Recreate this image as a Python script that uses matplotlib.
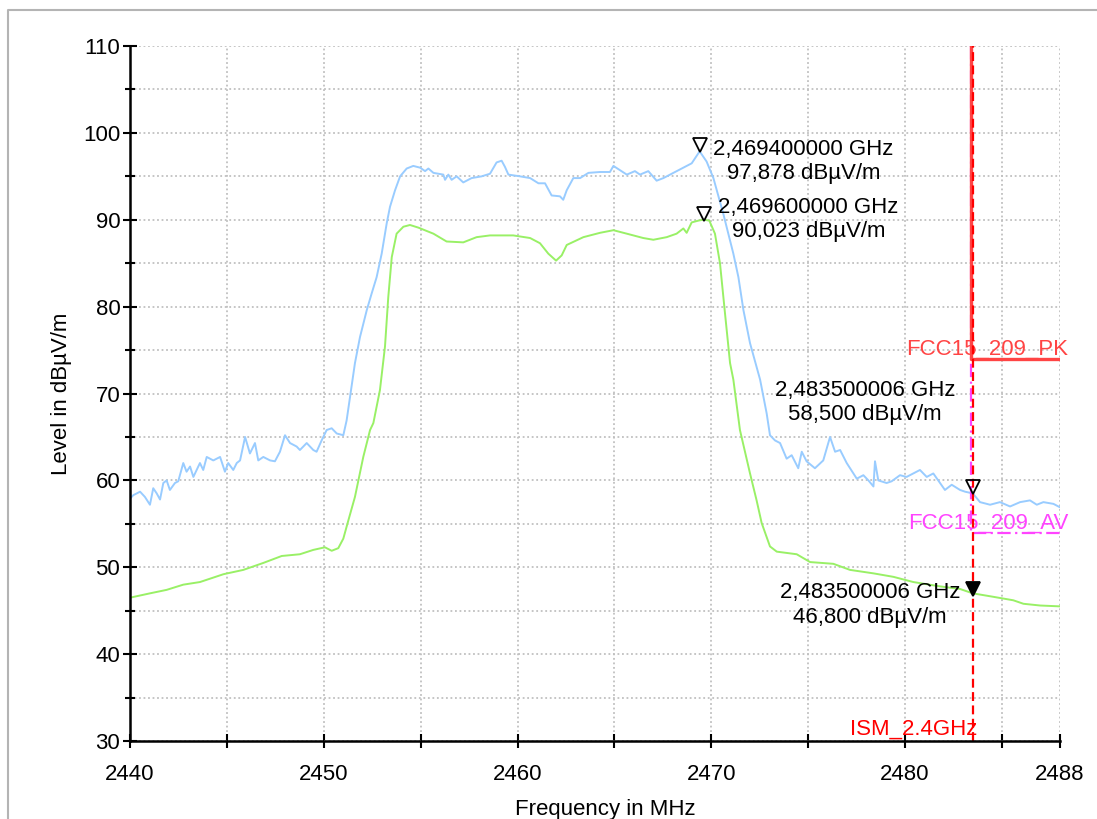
import matplotlib
matplotlib.use("Agg")
import matplotlib.pyplot as plt
from matplotlib.lines import Line2D
from matplotlib.transforms import ScaledTranslation

plt.rcParams['font.family'] = ['Liberation Sans', 'DejaVu Sans']

# peak trace (blue)
pk_freq = [2440.00, 2440.17, 2440.52, 2440.77, 2441.03, 2441.20, 2441.38, 2441.55, 2441.72, 2441.89,
           2442.06, 2442.32, 2442.49, 2442.75, 2442.92, 2443.10, 2443.27, 2443.44, 2443.61, 2443.78,
           2443.96, 2444.30, 2444.65, 2444.90, 2445.07, 2445.33, 2445.51, 2445.68, 2445.94, 2446.19,
           2446.45, 2446.62, 2446.88, 2447.23, 2447.48, 2447.74, 2448.00, 2448.26, 2448.60, 2448.77,
           2449.12, 2449.46, 2449.63, 2449.89, 2450.15, 2450.41, 2450.67, 2451.01, 2451.18, 2451.35,
           2451.61, 2451.87, 2452.22, 2452.47, 2452.73, 2452.99, 2453.25, 2453.42, 2453.68, 2453.94,
           2454.28, 2454.62, 2454.97, 2455.23, 2455.40, 2455.66, 2456.17, 2456.26, 2456.43, 2456.60,
           2456.86, 2457.20, 2457.63, 2458.15, 2458.58, 2458.92, 2459.18, 2459.35, 2459.53, 2460.13,
           2460.65, 2461.08, 2461.42, 2461.76, 2462.19, 2462.36, 2462.54, 2462.88, 2463.23, 2463.66,
           2464.26, 2464.77, 2464.95, 2465.29, 2465.64, 2466.06, 2466.32, 2466.75, 2467.18, 2467.53,
           2468.04, 2468.56, 2468.99, 2469.40, 2469.76, 2470.11, 2470.62, 2471.14, 2471.40, 2471.66,
           2472.00, 2472.52, 2472.86, 2473.03, 2473.29, 2473.55, 2473.89, 2474.15, 2474.49, 2474.67,
           2474.92, 2475.35, 2475.78, 2476.13, 2476.39, 2476.65, 2476.99, 2477.51, 2477.85, 2478.11,
           2478.37, 2478.45, 2478.62, 2479.05, 2479.31, 2479.74, 2480.08, 2480.43, 2480.77, 2481.12,
           2481.46, 2481.81, 2482.06, 2482.41, 2482.84, 2483.10, 2483.50, 2483.87, 2484.39, 2484.90,
           2485.42, 2485.94, 2486.45, 2486.80, 2487.14, 2487.66, 2488.00]
pk_level = [57.9, 58.3, 58.7, 58.1, 57.2, 59.1, 58.5, 57.8, 59.7, 60.0,
            58.9, 59.7, 59.9, 62.0, 61.0, 61.6, 60.4, 61.2, 62.0, 61.2,
            62.7, 62.3, 62.7, 61.0, 62.0, 61.2, 62.0, 62.3, 65.0, 63.1,
            64.3, 62.3, 62.7, 62.3, 62.2, 63.3, 65.2, 64.3, 63.9, 63.5,
            64.3, 63.5, 63.3, 64.6, 65.8, 66.0, 65.4, 65.2, 66.9, 69.5,
            73.5, 76.5, 79.6, 81.5, 83.4, 86.1, 89.6, 91.5, 93.4, 95.0,
            95.9, 96.2, 96.0, 95.6, 95.9, 95.4, 95.2, 94.6, 95.2, 94.6,
            95.0, 94.3, 94.8, 95.0, 95.3, 96.6, 96.8, 96.1, 95.2, 95.0,
            94.8, 94.2, 94.2, 92.8, 92.7, 92.3, 93.4, 94.8, 94.8, 95.4,
            95.5, 95.5, 96.2, 95.7, 95.2, 95.6, 95.2, 95.6, 94.5, 94.8,
            95.4, 96.0, 96.5, 97.878, 96.7, 94.8, 90.7, 86.1, 83.4, 79.6,
            75.8, 71.6, 67.7, 65.2, 64.6, 64.3, 62.5, 62.9, 61.4, 63.3,
            62.2, 61.4, 62.3, 65.0, 63.3, 63.5, 62.0, 60.2, 60.6, 60.0,
            59.3, 62.2, 60.0, 59.7, 59.9, 60.6, 60.4, 60.8, 61.2, 60.4,
            60.8, 59.7, 58.9, 59.5, 58.9, 58.7, 58.5, 57.5, 57.2, 57.5,
            57.0, 57.5, 57.7, 57.2, 57.5, 57.3, 56.9]

# average trace (green)
av_freq = [2440.00, 2441.03, 2441.89, 2442.75, 2443.61, 2444.82, 2445.85, 2446.88, 2447.83, 2448.77,
           2449.46, 2450.06, 2450.41, 2450.75, 2451.01, 2451.27, 2451.61, 2452.04, 2452.39, 2452.56,
           2452.90, 2453.16, 2453.33, 2453.51, 2453.76, 2454.11, 2454.45, 2454.88, 2455.66, 2456.34,
           2457.20, 2457.89, 2458.58, 2459.78, 2460.65, 2461.16, 2461.59, 2461.99, 2462.28, 2462.54,
           2463.40, 2464.26, 2464.95, 2465.64, 2466.49, 2467.01, 2467.70, 2468.21, 2468.56, 2468.73,
           2468.99, 2469.33, 2469.60, 2469.90, 2470.19, 2470.45, 2470.71, 2470.97, 2471.14, 2471.48,
           2472.00, 2472.34, 2472.60, 2473.03, 2473.38, 2474.41, 2475.10, 2476.30, 2477.16, 2478.37,
           2479.40, 2480.43, 2481.81, 2482.84, 2483.50, 2484.56, 2485.59, 2486.11, 2486.97, 2488.00]
av_level = [46.5, 47.0, 47.4, 48.0, 48.3, 49.2, 49.7, 50.5, 51.3, 51.5,
            52.0, 52.3, 51.9, 52.2, 53.3, 55.4, 58.1, 62.7, 65.8, 66.6,
            70.4, 75.4, 81.1, 85.7, 88.4, 89.2, 89.4, 89.1, 88.4, 87.5,
            87.4, 88.0, 88.2, 88.2, 87.9, 87.3, 86.1, 85.3, 85.9, 87.1,
            88.0, 88.5, 88.8, 88.4, 87.9, 87.7, 88.0, 88.4, 89.0, 88.5,
            89.7, 89.9, 90.023, 89.9, 88.4, 85.0, 79.2, 73.5, 71.6, 65.8,
            60.8, 57.7, 55.1, 52.4, 51.8, 51.5, 50.6, 50.4, 49.7, 49.3,
            48.9, 48.3, 47.8, 47.5, 47.0, 46.6, 46.2, 45.8, 45.6, 45.5]

# limit lines
lim_freq = [2483.4, 2483.4, 2488.0]
lim_pk = [110, 74, 74]
lim_av = [110, 54, 54]
ism_freq = 2483.5

# markers
mk_freq = [2469.4, 2469.6, 2483.500006, 2483.500006]
mk_level = [97.878, 90.023, 58.5, 46.8]
mk_filled = [False, False, False, True]
mk_offset = [(104, -10), (105, 0), (-108, 91), (-103, -10)]

fig = plt.figure(figsize=(10.97, 8.19), dpi=100)
# light frame round the plot (left and top edges visible)
fig.lines.append(Line2D([8 / 1097, 8 / 1097, 1.0], [0.0, 1 - 10 / 819, 1 - 10 / 819],
                        transform=fig.transFigure, color='#b4b4b4', lw=1.5))
ax = fig.add_axes([0.1185, 0.0952, 0.8478, 0.8486])

ax.plot(pk_freq, pk_level, color='#99ccff', lw=1.4, zorder=3)
ax.plot(av_freq, av_level, color='#99f066', lw=1.4, zorder=3)

ax.plot(lim_freq, lim_av, color='#ff44ff', lw=1.6, ls=(0, (6, 2, 1, 2)), zorder=4)
ax.plot(lim_freq, lim_pk, color='#ff4444', lw=2.4, zorder=5)
ax.axvline(ism_freq, color='#ff0000', lw=1.6, ls=(0, (4, 2)), zorder=6)

ax.text(2488, 74, 'FCC15_209_PK', color='#ff4444', fontsize=16, ha='right', va='baseline',
        transform=ax.transData + ScaledTranslation(8 / 100, 4 / 100, fig.dpi_scale_trans))
ax.text(2488, 54, 'FCC15_209_AV', color='#ff44ff', fontsize=16, ha='right', va='baseline',
        transform=ax.transData + ScaledTranslation(8 / 100, 4 / 100, fig.dpi_scale_trans))
ax.text(ism_freq, 30, 'ISM_2.4GHz', color='#ff0000', fontsize=16, ha='right', va='bottom',
        transform=ax.transData + ScaledTranslation(5 / 100, 1 / 100, fig.dpi_scale_trans))

for f, v, filled, (dx, dy) in zip(mk_freq, mk_level, mk_filled, mk_offset):
    tr = ax.transData + ScaledTranslation(0, 6 / 100, fig.dpi_scale_trans)
    ax.plot([f], [v], marker='v', ms=10, mec='black', mew=1.3,
            mfc='black' if filled else 'none', transform=tr, zorder=7)
    label = f"{f / 1000:.9f}".replace('.', ',') + " GHz\n" + f"{v:.3f}".replace('.', ',') + " dBµV/m"
    ax.annotate(label, xy=(f, v), xytext=(dx, dy), textcoords='offset pixels',
                ha='center', va='center', ma='center', fontsize=16, linespacing=1.2, zorder=8)

ax.set_xlim(2440, 2488)
ax.set_ylim(30, 110)
ax.set_xticks([2440, 2450, 2460, 2470, 2480, 2488])
ax.set_xticks([2445, 2455, 2465, 2475, 2485], minor=True)
ax.set_yticks(range(30, 111, 10))
ax.set_yticks(range(35, 110, 10), minor=True)
ax.grid(True, which='both', color='#c0c0c0', ls=(0, (1, 1.5)), lw=1.3)
ax.set_axisbelow(True)

for s in ['top', 'right']:
    ax.spines[s].set_visible(False)
for s in ['left', 'bottom']:
    ax.spines[s].set_linewidth(1.8)
    ax.spines[s].set_zorder(9)

ax.tick_params(axis='both', which='both', direction='inout', width=1.5, labelsize=16, colors='black')
ax.tick_params(axis='x', which='both', length=9.5, pad=12)
ax.tick_params(axis='y', which='major', length=10, pad=2)
ax.tick_params(axis='y', which='minor', length=6.5)

ax.set_xlabel('Frequency in MHz', fontsize=16)
ax.set_ylabel('Level in dBµV/m', fontsize=16)
ax.xaxis.set_label_coords(0.511, -0.084)
ax.yaxis.set_label_coords(-0.062, 0.5)

fig.savefig('out.png', dpi=100)
